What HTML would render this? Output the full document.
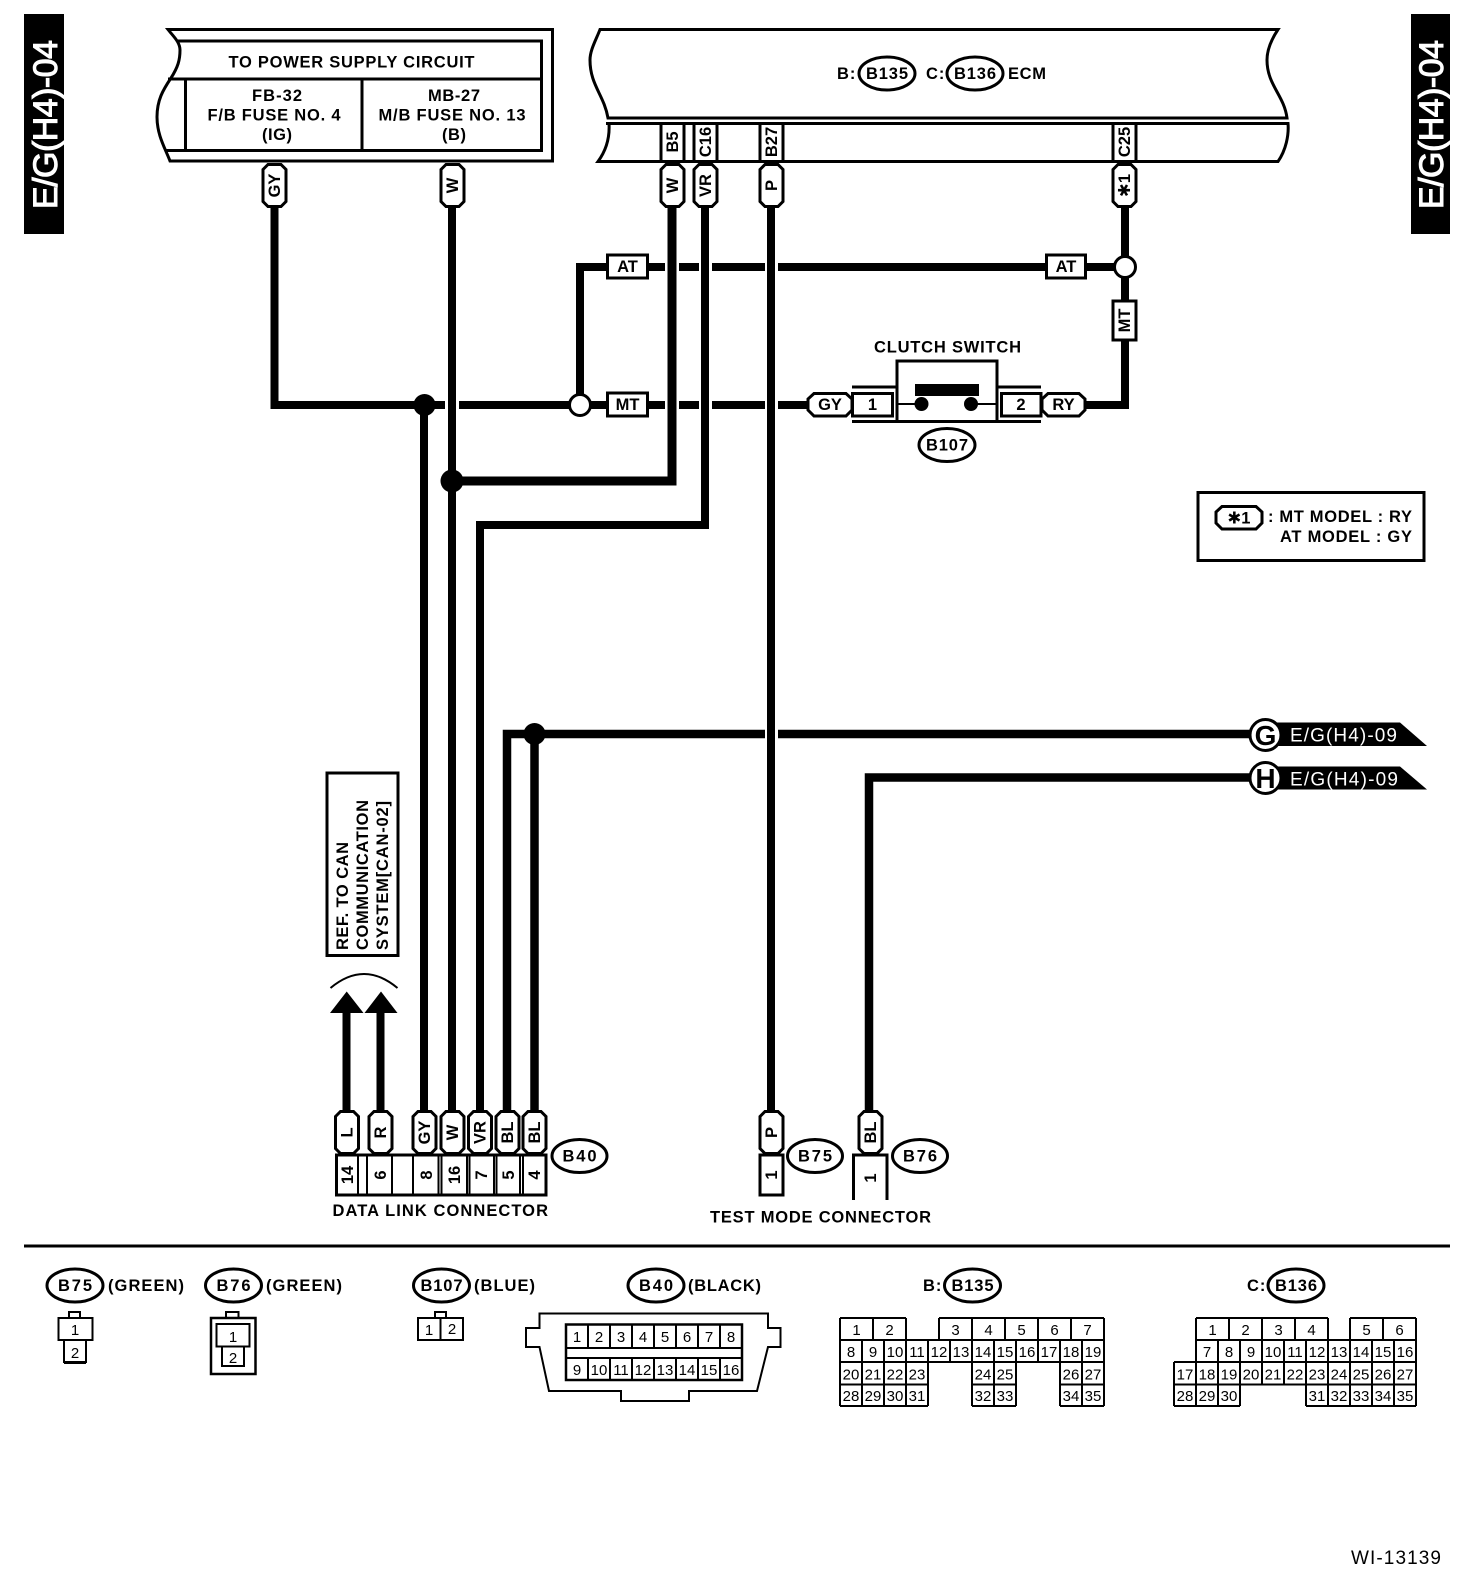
<!DOCTYPE html>
<html><head><meta charset="utf-8"><style>
html,body{margin:0;padding:0;background:#fff}
svg{display:block}
text{font-family:"Liberation Sans","DejaVu Sans",sans-serif;fill:#000}
.b{font-weight:700;font-size:16.5px}
.n{font-size:15px}
.c{text-anchor:middle}
.w{stroke:#000;fill:none}
.l{stroke:#000;fill:none;stroke-width:3}
.f{stroke:#000;fill:#fff;stroke-width:3}
.t{stroke:#000;fill:none;stroke-width:2}
</style></head><body>
<svg width="1472" height="1584" viewBox="0 0 1472 1584" xmlns="http://www.w3.org/2000/svg">
<defs>
<polygon id="vp" points="-11.5,-16 -6.5,-21 6.5,-21 11.5,-16 11.5,16 6.5,21 -6.5,21 -11.5,16"/>
</defs>
<rect width="1472" height="1584" fill="#fff"/>

<!-- side tabs -->
<rect x="24" y="14" width="40" height="220" fill="#000"/>
<text transform="translate(57,209) rotate(-90)" textLength="169" style="fill:#fff;stroke:#fff;stroke-width:1;font-size:34px">E/G(H4)-04</text>
<rect x="1411" y="14" width="39" height="220" fill="#000"/>
<text transform="translate(1443,209) rotate(-90)" textLength="169" style="fill:#fff;stroke:#fff;stroke-width:1;font-size:34px">E/G(H4)-04</text>

<!-- wires -->
<g class="w" stroke-width="8">
<path d="M274.5 206V405H445M459 405H607M648 405H665M679 405H699M712 405H765M778 405H808"/>
<path d="M580 405V267H607M648 267H665M679 267H699M712 267H765M778 267H1046M1086 267H1114"/>
<path d="M1125 206V405H1085"/>
<path d="M424 405V1112"/>
<path d="M452 206V1112"/>
<path d="M705 206V525H480V1112"/>
<path d="M771 206V1112"/>
<path d="M346.5 1010V1112M380.5 1010V1112"/>
<path d="M672 206V481H452" stroke-width="9"/>
<path d="M534.5 734V1112M507 1112V734H765M778 734H1250" stroke-width="8.5"/>
<path d="M869 1112V777.5H1250" stroke-width="8.5"/>
</g>
<circle cx="424.5" cy="405" r="11" fill="#000"/>
<circle cx="452" cy="481" r="11.5" fill="#000"/>
<circle cx="534.5" cy="734" r="11" fill="#000"/>
<circle cx="580" cy="405" r="10.5" class="f"/>
<circle cx="1125" cy="267" r="10.5" class="f"/>

<!-- power supply box -->
<path class="f" d="M168 29.5H552.5V161H170C165 148 157 135 157 117C157 100 163 90 171 78C178 67 180 60 180 50C180 42 173 36 168 29.5Z"/>
<path class="l" d="M178 41H541.5V150.5H166M168 79H541.5M185.5 79V150.5M362 79V150.5"/>
<text class="b c" x="351.5" y="67.5" textLength="246">TO POWER SUPPLY CIRCUIT</text>
<text class="b c" x="277" y="101" textLength="50">FB-32</text>
<text class="b c" x="274" y="120.5" textLength="133">F/B FUSE NO. 4</text>
<text class="b c" x="277" y="140" textLength="30">(IG)</text>
<text class="b c" x="454" y="101" textLength="52">MB-27</text>
<text class="b c" x="452" y="120.5" textLength="147">M/B FUSE NO. 13</text>
<text class="b c" x="454" y="140" textLength="24">(B)</text>

<!-- ECM -->
<path class="l" d="M600 29.5H1278C1271 40 1267 50 1267 60C1267 85 1284 95 1287 118H608C604 95 590 85 590 60C590 50 596 40 600 29.5Z"/>
<path class="l" d="M606 123.5H1288C1289 135 1286 150 1278 161.5H598C605 152 610 140 609 123.5Z"/>
<path class="l" d="M661 123.5V161M684 123.5V161M694 123.5V161M717 123.5V161M760 123.5V161M783 123.5V161M1113 123.5V161M1136 123.5V161"/>
<text class="b" x="837" y="79" style="letter-spacing:1px">B:</text>
<ellipse cx="887" cy="73.5" rx="28" ry="16.5" class="f"/>
<text class="b c" x="887" y="79" textLength="42">B135</text>
<text class="b" x="926" y="79" style="letter-spacing:1px">C:</text>
<ellipse cx="975" cy="73.5" rx="28" ry="16.5" class="f"/>
<text class="b c" x="975" y="79" textLength="42">B136</text>
<text class="b" x="1008" y="79" textLength="38">ECM</text>
<g class="b c">
<text transform="translate(678,142) rotate(-90)" style="text-anchor:middle">B5</text>
<text transform="translate(711,142) rotate(-90)" style="text-anchor:middle">C16</text>
<text transform="translate(777,142) rotate(-90)" style="text-anchor:middle">B27</text>
<text transform="translate(1130,142) rotate(-90)" style="text-anchor:middle">C25</text>
</g>

<!-- top pills -->
<g class="f">
<use href="#vp" x="274.5" y="185.5"/><use href="#vp" x="452.5" y="185.5"/>
<use href="#vp" x="672.5" y="185.5"/><use href="#vp" x="705.5" y="185.5"/>
<use href="#vp" x="771.5" y="185.5"/><use href="#vp" x="1124.5" y="185.5"/>
</g>
<text class="b" transform="translate(280,185.5) rotate(-90)" style="text-anchor:middle">GY</text>
<text class="b" transform="translate(458,185.5) rotate(-90)" style="text-anchor:middle">W</text>
<text class="b" transform="translate(678,185.5) rotate(-90)" style="text-anchor:middle">W</text>
<text class="b" transform="translate(711,185.5) rotate(-90)" style="text-anchor:middle">VR</text>
<text class="b" transform="translate(777,185.5) rotate(-90)" style="text-anchor:middle">P</text>
<text class="b" transform="translate(1130,185.5) rotate(-90)" style="text-anchor:middle">✱1</text>

<!-- AT / MT tags -->
<rect x="607.5" y="255" width="40" height="23" class="f"/><text class="b c" x="627.5" y="272">AT</text>
<rect x="607.5" y="393" width="40" height="23" class="f"/><text class="b c" x="627.5" y="410">MT</text>
<rect x="1046.5" y="255" width="39" height="23" class="f"/><text class="b c" x="1066" y="272">AT</text>
<rect x="1113" y="301" width="23" height="39" class="f"/><text class="b" transform="translate(1130,320.5) rotate(-90)" style="text-anchor:middle">MT</text>

<!-- clutch switch -->
<text class="b c" x="947.5" y="352.5" textLength="147">CLUTCH SWITCH</text>
<rect x="897" y="361" width="100" height="60.5" class="f"/>
<path class="l" d="M852 387H896M852 421.5H896M997 387H1041M997 421.5H1041"/>
<rect x="915" y="384" width="64" height="12" fill="#000"/>
<path class="t" d="M897 404H921M971 404H997"/>
<circle cx="921.5" cy="404" r="7" fill="#000"/><circle cx="971" cy="404" r="7" fill="#000"/>
<rect x="852.5" y="393.5" width="40" height="22.5" class="f"/><text class="b c" x="872.5" y="410">1</text>
<rect x="1001.5" y="393.5" width="39.5" height="22.5" class="f"/><text class="b c" x="1021" y="410">2</text>
<polygon class="f" points="814,393.5 846,393.5 852,399 852,410 846,416 814,416 808,410 808,399"/>
<text class="b c" x="830" y="410">GY</text>
<polygon class="f" points="1048,393.5 1079,393.5 1085,399 1085,410 1079,416 1048,416 1042,410 1042,399"/>
<text class="b c" x="1063.5" y="410">RY</text>
<ellipse cx="947" cy="445" rx="28" ry="16.5" class="f"/><text class="b c" x="947" y="450.5" textLength="42">B107</text>

<!-- note -->
<rect x="1198" y="492.5" width="226" height="68" class="l" fill="none"/>
<polygon class="f" points="1222,506.5 1256,506.5 1262,512 1262,523 1256,529 1222,529 1216,523 1216,512"/>
<text class="b c" x="1239" y="523.5">✱1</text>
<text class="b" x="1268" y="522" textLength="144">: MT MODEL : RY</text>
<text class="b" x="1280" y="542" textLength="132">AT MODEL : GY</text>

<!-- flags -->
<polygon fill="#000" points="1270,722.5 1400,722.5 1427,746 1270,746"/>
<polygon fill="#000" points="1270,766.5 1400,766.5 1427,789.5 1270,789.5"/>
<circle cx="1265.5" cy="735" r="15.5" fill="#fff" stroke="#000" stroke-width="3"/>
<circle cx="1265.5" cy="778" r="15.5" fill="#fff" stroke="#000" stroke-width="3"/>
<text class="c" x="1265.5" y="745" style="font-size:28px;font-weight:700">G</text>
<text class="c" x="1265.5" y="788" style="font-size:28px;font-weight:700">H</text>
<text x="1290" y="741.5" textLength="107" style="fill:#fff;font-size:19px">E/G(H4)-09</text>
<text x="1290" y="785.5" textLength="108" style="fill:#fff;font-size:19px">E/G(H4)-09</text>

<!-- ref box + arrows -->
<rect x="327" y="773" width="71" height="182.5" class="l"/>
<text class="b" transform="translate(348,950) rotate(-90)" textLength="108">REF. TO CAN</text>
<text class="b" transform="translate(368,950) rotate(-90)" textLength="150">COMMUNICATION</text>
<text class="b" transform="translate(388,950) rotate(-90)" textLength="149">SYSTEM[CAN-02]</text>
<path class="t" d="M330.5 988Q364 960 397.5 988"/>
<polygon fill="#000" points="346.7,991.5 363.5,1013 330,1013"/>
<polygon fill="#000" points="381,991.5 397.5,1013 364.5,1013"/>

<!-- data link connector -->
<rect x="336.5" y="1155" width="209.5" height="40" class="f"/>
<path class="t" d="M358 1155V1195M367 1155V1195M392 1155V1195M413 1155V1195M438.5 1155V1195M441.5 1155V1195M467 1155V1195M469.5 1155V1195M494 1155V1195M496.5 1155V1195M520 1155V1195M523 1155V1195"/>
<g class="f">
<use href="#vp" x="347" y="1132.5"/><use href="#vp" x="380.5" y="1132.5"/><use href="#vp" x="424.5" y="1132.5"/>
<use href="#vp" x="452.5" y="1132.5"/><use href="#vp" x="480" y="1132.5"/><use href="#vp" x="507.5" y="1132.5"/><use href="#vp" x="534.5" y="1132.5"/>
<use href="#vp" x="771.5" y="1132.5"/><use href="#vp" x="870.5" y="1132.5"/>
</g>
<text class="b" transform="translate(352.5,1132.5) rotate(-90)" style="text-anchor:middle">L</text>
<text class="b" transform="translate(386,1132.5) rotate(-90)" style="text-anchor:middle">R</text>
<text class="b" transform="translate(430,1132.5) rotate(-90)" style="text-anchor:middle">GY</text>
<text class="b" transform="translate(458,1132.5) rotate(-90)" style="text-anchor:middle">W</text>
<text class="b" transform="translate(485.5,1132.5) rotate(-90)" style="text-anchor:middle">VR</text>
<text class="b" transform="translate(513,1132.5) rotate(-90)" style="text-anchor:middle">BL</text>
<text class="b" transform="translate(540,1132.5) rotate(-90)" style="text-anchor:middle">BL</text>
<text class="b" transform="translate(777,1132.5) rotate(-90)" style="text-anchor:middle">P</text>
<text class="b" transform="translate(876,1132.5) rotate(-90)" style="text-anchor:middle">BL</text>
<text class="b" transform="translate(353,1175) rotate(-90)" style="text-anchor:middle">14</text>
<text class="b" transform="translate(386,1175) rotate(-90)" style="text-anchor:middle">6</text>
<text class="b" transform="translate(432,1175) rotate(-90)" style="text-anchor:middle">8</text>
<text class="b" transform="translate(460,1175) rotate(-90)" style="text-anchor:middle">16</text>
<text class="b" transform="translate(487,1175) rotate(-90)" style="text-anchor:middle">7</text>
<text class="b" transform="translate(514,1175) rotate(-90)" style="text-anchor:middle">5</text>
<text class="b" transform="translate(540,1175) rotate(-90)" style="text-anchor:middle">4</text>
<ellipse cx="579.5" cy="1156" rx="27.5" ry="16.5" class="f"/><text class="b c" x="579.5" y="1161.5" textLength="34">B40</text>
<text class="b" x="332.5" y="1216" textLength="215.5">DATA LINK CONNECTOR</text>

<rect x="760" y="1155" width="23" height="40" class="f"/>
<text class="b" transform="translate(777,1175) rotate(-90)" style="text-anchor:middle">1</text>
<ellipse cx="815" cy="1156" rx="27.5" ry="16.5" class="f"/><text class="b c" x="815" y="1161.5" textLength="34">B75</text>
<path class="l" d="M853.5 1200V1155H887V1200"/>
<text class="b" transform="translate(876,1178) rotate(-90)" style="text-anchor:middle">1</text>
<ellipse cx="920" cy="1156" rx="27.5" ry="16.5" class="f"/><text class="b c" x="920" y="1161.5" textLength="34">B76</text>
<text class="b" x="710" y="1222.5" textLength="221">TEST MODE CONNECTOR</text>

<!-- divider -->
<rect x="24" y="1244.5" width="1426" height="3" fill="#000"/>

<!-- legend headers -->
<ellipse cx="75" cy="1285.5" rx="28" ry="16.5" class="f"/><text class="b c" x="75" y="1291" textLength="34">B75</text>
<text class="b" x="108" y="1291" textLength="76">(GREEN)</text>
<ellipse cx="233.5" cy="1285.5" rx="28" ry="16.5" class="f"/><text class="b c" x="233.5" y="1291" textLength="34">B76</text>
<text class="b" x="266" y="1291" textLength="76">(GREEN)</text>
<ellipse cx="441.5" cy="1285.5" rx="28" ry="16.5" class="f"/><text class="b c" x="441.5" y="1291" textLength="42">B107</text>
<text class="b" x="474" y="1291" textLength="61">(BLUE)</text>
<ellipse cx="656" cy="1285.5" rx="28" ry="16.5" class="f"/><text class="b c" x="656" y="1291" textLength="34">B40</text>
<text class="b" x="688" y="1291" textLength="73">(BLACK)</text>
<text class="b" x="923" y="1291" style="letter-spacing:1px">B:</text>
<ellipse cx="972.5" cy="1285.5" rx="28" ry="16.5" class="f"/><text class="b c" x="972.5" y="1291" textLength="42">B135</text>
<text class="b" x="1247" y="1291" style="letter-spacing:1px">C:</text>
<ellipse cx="1296" cy="1285.5" rx="28" ry="16.5" class="f"/><text class="b c" x="1296" y="1291" textLength="42">B136</text>

<!-- B75 B76 B107 connectors -->
<path class="t" d="M69 1318V1312H80V1318M58.5 1318H92.5V1340H58.5ZM64 1340V1362H86V1340"/>
<path d="M64 1362.5H86" stroke="#000" stroke-width="3"/>
<text class="n c" x="75" y="1335">1</text><text class="n c" x="75" y="1358">2</text>
<path class="t" d="M226 1318V1312H238.5V1318"/>
<rect x="211" y="1318" width="44.5" height="56" fill="none" stroke="#000" stroke-width="2.5"/>
<path class="t" d="M216.5 1324H249.5V1346.5H216.5ZM222 1346.5V1366H244V1346.5Z"/>
<text class="n c" x="233" y="1342">1</text><text class="n c" x="233" y="1363">2</text>
<path class="t" d="M435 1318V1312H446V1318M418 1318H463V1340H418ZM440.5 1318V1340"/>
<text class="n c" x="429" y="1335">1</text><text class="n c" x="452" y="1334">2</text>

<!-- B40 connector -->
<g transform="translate(0,1)">
<path class="t" d="M539.5 1312.5H768V1327H780.5V1346H768L757 1390H689V1400H621V1390H549L539.5 1346H526V1327H539.5Z"/>
<rect x="566" y="1323.5" width="176" height="55.5" fill="none" stroke="#000" stroke-width="2.5"/>
<path class="t" d="M566 1347H742M566 1357H742M588 1323.5V1347M610 1323.5V1347M632 1323.5V1347M654 1323.5V1347M676 1323.5V1347M698 1323.5V1347M720 1323.5V1347M588 1357V1379M610 1357V1379M632 1357V1379M654 1357V1379M676 1357V1379M698 1357V1379M720 1357V1379"/>
<g class="n">
<text class="c" x="577" y="1341">1</text><text class="c" x="599" y="1341">2</text><text class="c" x="621" y="1341">3</text><text class="c" x="643" y="1341">4</text><text class="c" x="665" y="1341">5</text><text class="c" x="687" y="1341">6</text><text class="c" x="709" y="1341">7</text><text class="c" x="731" y="1341">8</text>
<text class="c" x="577" y="1374">9</text><text class="c" x="599" y="1374">10</text><text class="c" x="621" y="1374">11</text><text class="c" x="643" y="1374">12</text><text class="c" x="665" y="1374">13</text><text class="c" x="687" y="1374">14</text><text class="c" x="709" y="1374">15</text><text class="c" x="731" y="1374">16</text>
</g>
</g>

<!-- B135 grid -->
<path class="t" d="M840 1318H906M939 1318H1104M840 1340H1104M840 1362H1104M840 1384.5H928M972 1384.5H1016M1060 1384.5H1104M840 1406H928M972 1406H1016M1060 1406H1104
M840 1318V1406M873 1318V1340M906 1318V1340M939 1318V1340M972 1318V1340M1005 1318V1340M1038 1318V1340M1071 1318V1340M1104 1318V1406
M862 1340V1362M884 1340V1362M906 1340V1362M928 1340V1362M950 1340V1362M972 1340V1362M994 1340V1362M1016 1340V1362M1038 1340V1362M1060 1340V1362M1082 1340V1362
M862 1362V1406M884 1362V1406M906 1362V1406M928 1362V1406M972 1362V1406M994 1362V1406M1016 1362V1406M1060 1362V1406M1082 1362V1406"/>
<g class="n">
<text class="c" x="856.5" y="1335">1</text><text class="c" x="889.5" y="1335">2</text><text class="c" x="955.5" y="1335">3</text><text class="c" x="988.5" y="1335">4</text><text class="c" x="1021.5" y="1335">5</text><text class="c" x="1054.5" y="1335">6</text><text class="c" x="1087.5" y="1335">7</text>
<text class="c" x="851" y="1357">8</text><text class="c" x="873" y="1357">9</text><text class="c" x="895" y="1357">10</text><text class="c" x="917" y="1357">11</text><text class="c" x="939" y="1357">12</text><text class="c" x="961" y="1357">13</text><text class="c" x="983" y="1357">14</text><text class="c" x="1005" y="1357">15</text><text class="c" x="1027" y="1357">16</text><text class="c" x="1049" y="1357">17</text><text class="c" x="1071" y="1357">18</text><text class="c" x="1093" y="1357">19</text>
<text class="c" x="851" y="1379.5">20</text><text class="c" x="873" y="1379.5">21</text><text class="c" x="895" y="1379.5">22</text><text class="c" x="917" y="1379.5">23</text><text class="c" x="983" y="1379.5">24</text><text class="c" x="1005" y="1379.5">25</text><text class="c" x="1071" y="1379.5">26</text><text class="c" x="1093" y="1379.5">27</text>
<text class="c" x="851" y="1401">28</text><text class="c" x="873" y="1401">29</text><text class="c" x="895" y="1401">30</text><text class="c" x="917" y="1401">31</text><text class="c" x="983" y="1401">32</text><text class="c" x="1005" y="1401">33</text><text class="c" x="1071" y="1401">34</text><text class="c" x="1093" y="1401">35</text>
</g>

<!-- B136 grid -->
<g transform="translate(-2,0)">
<path class="t" d="M1198 1318H1330M1352 1318H1418M1198 1340H1418M1176 1362H1418M1176 1384.5H1418M1176 1406H1242M1308 1406H1418
M1198 1318V1362M1231 1318V1340M1264 1318V1340M1297 1318V1340M1330 1318V1340M1352 1318V1340M1385 1318V1340M1418 1318V1406
M1220 1340V1384.5M1242 1340V1406M1264 1340V1384.5M1286 1340V1384.5M1308 1340V1406M1330 1340V1406M1352 1340V1406M1374 1340V1406M1396 1340V1406
M1176 1362V1406M1198 1362V1406M1220 1384.5V1406"/>
<g class="n">
<text class="c" x="1214.5" y="1335">1</text><text class="c" x="1247.5" y="1335">2</text><text class="c" x="1280.5" y="1335">3</text><text class="c" x="1313.5" y="1335">4</text><text class="c" x="1368.5" y="1335">5</text><text class="c" x="1401.5" y="1335">6</text>
<text class="c" x="1209" y="1357">7</text><text class="c" x="1231" y="1357">8</text><text class="c" x="1253" y="1357">9</text><text class="c" x="1275" y="1357">10</text><text class="c" x="1297" y="1357">11</text><text class="c" x="1319" y="1357">12</text><text class="c" x="1341" y="1357">13</text><text class="c" x="1363" y="1357">14</text><text class="c" x="1385" y="1357">15</text><text class="c" x="1407" y="1357">16</text>
<text class="c" x="1187" y="1379.5">17</text><text class="c" x="1209" y="1379.5">18</text><text class="c" x="1231" y="1379.5">19</text><text class="c" x="1253" y="1379.5">20</text><text class="c" x="1275" y="1379.5">21</text><text class="c" x="1297" y="1379.5">22</text><text class="c" x="1319" y="1379.5">23</text><text class="c" x="1341" y="1379.5">24</text><text class="c" x="1363" y="1379.5">25</text><text class="c" x="1385" y="1379.5">26</text><text class="c" x="1407" y="1379.5">27</text>
<text class="c" x="1187" y="1401">28</text><text class="c" x="1209" y="1401">29</text><text class="c" x="1231" y="1401">30</text><text class="c" x="1319" y="1401">31</text><text class="c" x="1341" y="1401">32</text><text class="c" x="1363" y="1401">33</text><text class="c" x="1385" y="1401">34</text><text class="c" x="1407" y="1401">35</text>
</g>
</g>

<text x="1351" y="1564" textLength="90" style="font-size:19px">WI-13139</text>
</svg>
</body></html>
